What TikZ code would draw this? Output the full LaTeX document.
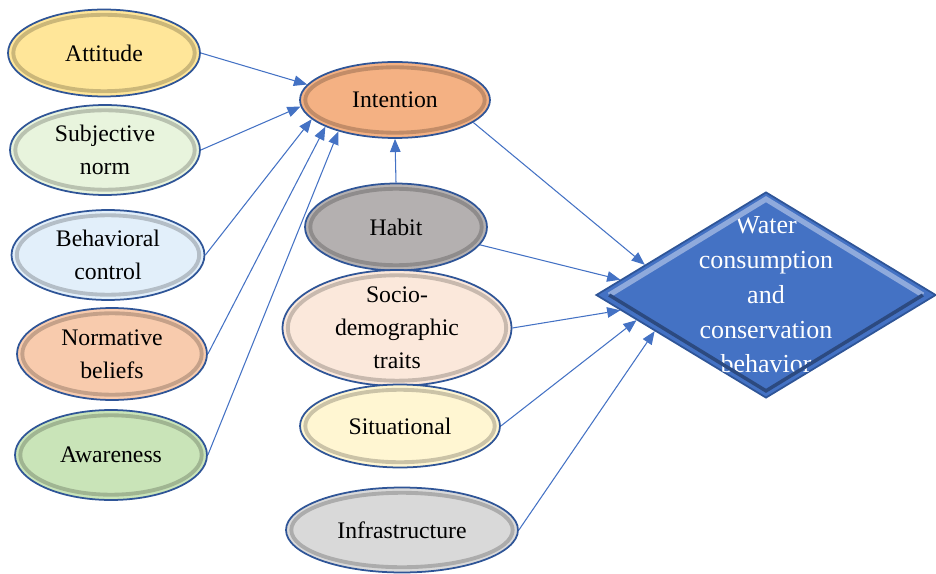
\documentclass[tikz,border=0pt]{standalone}
\usepackage{fontspec}
\setmainfont{Liberation Serif}
\usepackage{tikz}
\usepackage{xcolor}
\usetikzlibrary{arrows.meta, shapes.geometric, calc, positioning}

\definecolor{edgeblue}{HTML}{2F5597}
\definecolor{arrowblue}{HTML}{4472C4}
\definecolor{waterblue}{HTML}{4472C4}
\definecolor{attcol}{HTML}{FFE699}
\definecolor{sncol}{HTML}{E8F4DD}
\definecolor{bccol}{HTML}{E2EFFA}
\definecolor{nbcol}{HTML}{F8CBAD}
\definecolor{awcol}{HTML}{C9E4B8}
\definecolor{intcol}{HTML}{F4B183}
\definecolor{habcol}{HTML}{B4B0B0}
\definecolor{soccol}{HTML}{FBE8DB}
\definecolor{sitcol}{HTML}{FFF6D2}
\definecolor{infcol}{HTML}{D9D9D9}

\tikzset{
  factor/.style={ellipse, draw=edgeblue, line width=1pt, inner sep=0pt, align=center,
    font=\fontsize{13.5}{18.8}\selectfont},
  link/.style={-{Triangle[length=7.5pt,width=6pt]}, draw=arrowblue, line width=0.6pt},
}

\begin{document}
\begin{tikzpicture}[x=0.02cm, y=-0.02cm]
\useasboundingbox (0,0) rectangle (936,574);

% theory of planned behaviour side
\node[factor, fill=attcol, minimum width=3.84cm, minimum height=1.74cm] (att) at (104,53) {Attitude};
\node[factor, fill=sncol, minimum width=3.8cm, minimum height=1.8cm] (sn) at (105,150) {Subjective\\norm};
\node[factor, fill=bccol, minimum width=3.86cm, minimum height=1.8cm] (bc) at (108,255) {Behavioral\\control};
\node[factor, fill=nbcol, minimum width=3.8cm, minimum height=1.84cm] (nb) at (112,354) {Normative\\beliefs};
\node[factor, fill=awcol, minimum width=3.84cm, minimum height=1.8cm] (aw) at (111,455) {Awareness};

% middle column
\node[factor, fill=intcol, minimum width=3.8cm, minimum height=1.52cm] (int) at (395,100) {Intention};
\node[factor, fill=habcol, minimum width=3.64cm, minimum height=1.74cm] (hab) at (396,227) {Habit};
\node[factor, fill=soccol, minimum width=4.58cm, minimum height=2.04cm] (soc) at (397,328) {Socio-\\demographic\\traits};
\node[factor, fill=sitcol, minimum width=4cm, minimum height=1.66cm] (sit) at (400,426) {Situational};
\node[factor, fill=infcol, minimum width=4.64cm, minimum height=1.7cm] (inf) at (402,530) {Infrastructure};

% outcome
\node[diamond, draw=edgeblue, fill=waterblue, line width=1pt, inner sep=0pt,
  minimum width=6.8cm, minimum height=4.12cm,
  label={[text=white, align=center, font=\fontsize{14.8}{19.8}\selectfont]center:Water\\consumption\\and\\conservation\\behavior}] (wb) at (766,295) {};

% bevels
\foreach \nd/\c in {att/attcol, sn/sncol, bc/bccol, nb/nbcol, aw/awcol, int/intcol, hab/habcol, soc/soccol, sit/sitcol, inf/infcol}
  \draw[\c!55!black, line width=2.2pt, opacity=0.45]
    let \p0=(\nd.center), \p1=(\nd.east), \p2=(\nd.north) in
    (\p0) ellipse ({\x1-\x0-3.5pt} and {\y2-\y0-3.5pt});
\draw[waterblue!60!white, line width=3pt]
  ($(wb.west)+(14,0)$) -- ($(wb.north)+(0,8)$) -- ($(wb.east)+(-14,0)$);
\draw[waterblue!65!black, line width=2pt]
  ($(wb.east)+(-14,0)$) -- ($(wb.south)+(0,-8)$) -- ($(wb.west)+(14,0)$);

\draw
(att.east) edge[link] (int.170)
(sn.east) edge[link] (int.184)
(bc.east) edge[link] (int.193)
(nb.east) edge[link] (int.201)
(aw.east) edge[link] (int.209)
(hab.north) edge[link] (int.south)
(int.-16) edge[link] (wb.166)
(hab.-12) edge[link] (wb.174)
(soc.east) edge[link] (wb.186)
(sit.east) edge[link] (wb.191)
(inf.east) edge[link] (wb.198);
\end{tikzpicture}
\end{document}
